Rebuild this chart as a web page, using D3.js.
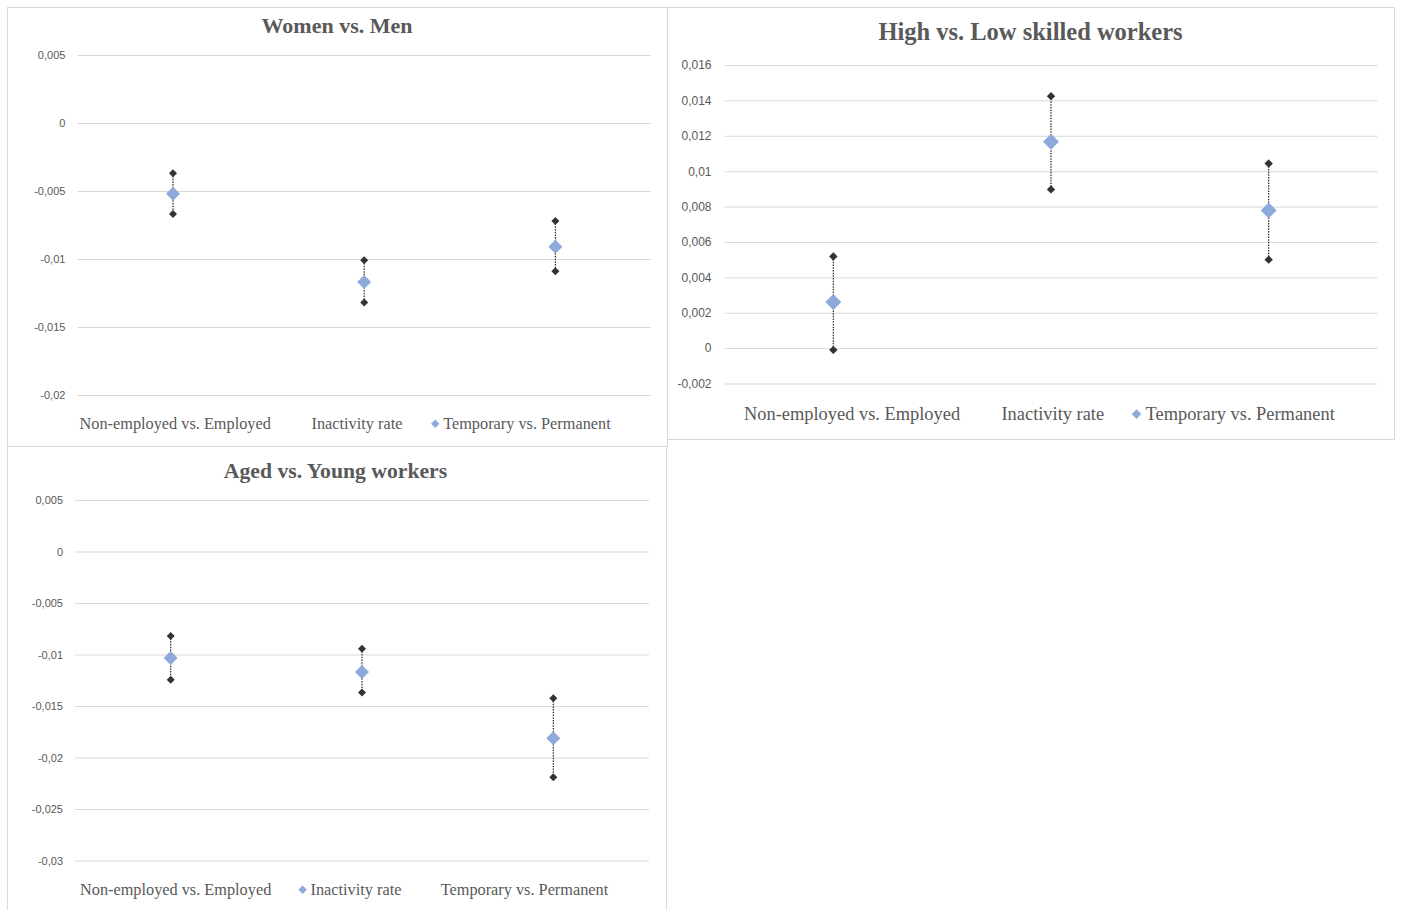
<!DOCTYPE html>
<html>
<head>
<meta charset="utf-8">
<script src="https://cdn.jsdelivr.net/npm/d3@7"></script>
<style>
  html, body { margin: 0; padding: 0; background: #fff; }
  svg { display: block; }
</style>
</head>
<body>
<svg id="chart" width="1402" height="910"></svg>
<script>
// Categories shared by every panel
const categories = ["Non-employed vs. Employed", "Inactivity rate", "Temporary vs. Permanent"];

// Women vs. Men: point estimate with lower / upper bounds
const womenEstimate = [-0.0052, -0.0117, -0.0091];
const womenLower    = [-0.0067, -0.0132, -0.0109];
const womenUpper    = [-0.0037, -0.0101, -0.0072];
const womenTicks    = [0.005, 0, -0.005, -0.01, -0.015, -0.02];

// High vs. Low skilled workers
const skillEstimate = [0.0026, 0.01166, 0.00778];
const skillLower    = [-0.0001, 0.00897, 0.005];
const skillUpper    = [0.00518, 0.01424, 0.01043];
const skillTicks    = [0.016, 0.014, 0.012, 0.01, 0.008, 0.006, 0.004, 0.002, 0, -0.002];

// Aged vs. Young workers
const agedEstimate = [-0.01034, -0.0117, -0.01814];
const agedLower    = [-0.01244, -0.0137, -0.02192];
const agedUpper    = [-0.0082, -0.00943, -0.01425];
const agedTicks    = [0.005, 0, -0.005, -0.01, -0.015, -0.02, -0.025, -0.03];

const svg = d3.select("#chart");
const fmt = v => String(+v.toFixed(4)).replace(".", ",");
const diamond = r => d3.symbol().type(d3.symbolSquare).size(2 * r * r)();

function panel(cfg) {
  const g = svg.append("g");
  // panel frame
  g.append("rect")
    .attr("x", cfg.box[0] + 0.5).attr("y", cfg.box[1] + 0.5)
    .attr("width", cfg.box[2] - cfg.box[0]).attr("height", cfg.box[3] - cfg.box[1])
    .attr("fill", "#fff").attr("stroke", "#d9d9d9").attr("stroke-width", 1);

  const x = d3.scalePoint().domain(categories).range(cfg.xRange).padding(0.5);
  const y = d3.scaleLinear().domain(cfg.yDomain).range(cfg.yRange);

  // gridlines + tick labels via axis
  const axis = d3.axisLeft(y).tickValues(cfg.ticks).tickFormat(fmt)
    .tickSize(-(cfg.xRange[1] - cfg.xRange[0])).tickPadding(cfg.tickPad);
  const ax = g.append("g").attr("transform", `translate(${cfg.xRange[0]},0)`).call(axis);
  ax.select(".domain").remove();
  ax.selectAll(".tick line").attr("stroke", "#d9d9d9").attr("stroke-width", 1);
  ax.selectAll(".tick text")
    .attr("fill", "#595959")
    .style("font-family", "'Liberation Sans', Arial, sans-serif")
    .style("font-size", cfg.tickSize + "px");

  // title
  g.append("text")
    .attr("x", (cfg.box[0] + cfg.box[2]) / 2 + cfg.titleDx).attr("y", cfg.titleY)
    .attr("text-anchor", "middle")
    .attr("fill", "#595959")
    .style("font-family", "'Liberation Serif', 'Times New Roman', serif")
    .style("font-weight", "bold")
    .style("font-size", cfg.titleSize + "px")
    .text(cfg.title);

  // error ranges (dotted)
  const rows = categories.map((c, i) => ({c, est: cfg.est[i], lo: cfg.lo[i], hi: cfg.hi[i]}));
  g.selectAll(".range").data(rows).join("line")
    .attr("x1", d => x(d.c)).attr("x2", d => x(d.c))
    .attr("y1", d => y(d.hi)).attr("y2", d => y(d.lo))
    .attr("stroke", "#262626").attr("stroke-width", 1.2)
    .attr("stroke-dasharray", "1.5,1.2");

  // bound markers
  const bounds = rows.flatMap(d => [{c: d.c, v: d.hi}, {c: d.c, v: d.lo}]);
  g.selectAll(".bound").data(bounds).join("path")
    .attr("d", diamond(cfg.capR))
    .attr("transform", d => `translate(${x(d.c)},${y(d.v)}) rotate(45)`)
    .attr("fill", "#333333");

  // point estimates
  g.selectAll(".est").data(rows).join("path")
    .attr("d", diamond(cfg.markR))
    .attr("transform", d => `translate(${x(d.c)},${y(d.est)}) rotate(45)`)
    .attr("fill", "#8eaadb");

  // legend row
  const lg = g.append("g");
  const fs = cfg.legendSize;
  const slot = fs * 0.75, gap = fs * cfg.legendGap;
  let cursor = 0;
  categories.forEach((c, i) => {
    if (i === cfg.markerItem) {
      lg.append("path").attr("d", diamond(fs * 0.26))
        .attr("transform", `translate(${cursor + slot * 0.35},${-fs * 0.32}) rotate(45)`)
        .attr("fill", "#8eaadb");
    }
    const t = lg.append("text").attr("x", cursor + slot).attr("y", 0)
      .attr("fill", "#595959")
      .style("font-family", "'Liberation Serif', 'Times New Roman', serif")
      .style("font-size", fs + "px")
      .text(c);
    cursor += slot + t.node().getComputedTextLength() + gap;
  });
  const total = cursor - gap;
  lg.attr("transform", `translate(${(cfg.box[0] + cfg.box[2]) / 2 - total / 2 + cfg.legendDx},${cfg.legendY})`);
}

panel({
  box: [7, 7, 667, 446], title: "Women vs. Men", titleY: 33, titleSize: 22, titleDx: 0,
  xRange: [77.4, 651], yDomain: [-0.02, 0.005], yRange: [395, 55], ticks: womenTicks,
  tickSize: 11, tickPad: 12, est: womenEstimate, lo: womenLower, hi: womenUpper,
  markR: 7, capR: 4, legendSize: 16.3, legendGap: 1.75, legendY: 429, legendDx: 2, markerItem: 2
});

panel({
  box: [667, 7, 1394, 439], title: "High vs. Low skilled workers", titleY: 40, titleSize: 24.5, titleDx: 0,
  xRange: [724.5, 1377.5], yDomain: [-0.002, 0.016], yRange: [383.5, 65], ticks: skillTicks,
  tickSize: 12, tickPad: 13, est: skillEstimate, lo: skillLower, hi: skillUpper,
  markR: 8, capR: 4.2, legendSize: 18.4, legendGap: 1.5, legendY: 420, legendDx: 2, markerItem: 2
});

panel({
  box: [7, 446, 666, 915], title: "Aged vs. Young workers", titleY: 478, titleSize: 21.7, titleDx: -1,
  xRange: [75, 649], yDomain: [-0.03, 0.005], yRange: [860.5, 500], ticks: agedTicks,
  tickSize: 11, tickPad: 12, est: agedEstimate, lo: agedLower, hi: agedUpper,
  markR: 7, capR: 4, legendSize: 16.3, legendGap: 1.66, legendY: 895, legendDx: 1.5, markerItem: 1
});
</script>
</body>
</html>
